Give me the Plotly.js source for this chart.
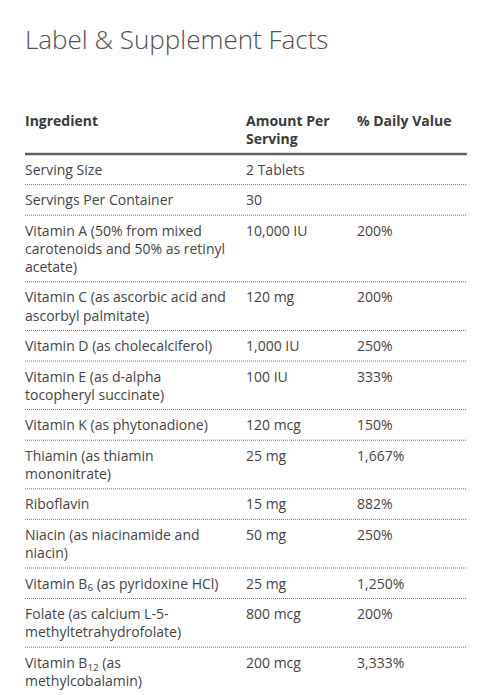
<!DOCTYPE html>
<html>
<head>
<meta charset="utf-8">
<script src="https://cdn.plot.ly/plotly-3.0.1.min.js"></script>
<style>html,body{margin:0;padding:0;background:#fff;}#chart{width:501px;height:695px;}</style>
</head>
<body>
<div id="chart"></div>
<script>
// ---- data ----
var chartTitle = "Label & Supplement Facts";
var headers = ["Ingredient", "Amount Per<br>Serving", "% Daily Value"];
var ingredients = [
  "Serving Size",
  "Servings Per Container",
  "Vitamin A (50% from mixed<br>carotenoids and 50% as retinyl<br>acetate)",
  "Vitamin C (as ascorbic acid and<br>ascorbyl palmitate)",
  "Vitamin D (as cholecalciferol)",
  "Vitamin E (as d-alpha<br>tocopheryl succinate)",
  "Vitamin K (as phytonadione)",
  "Thiamin (as thiamin<br>mononitrate)",
  "Riboflavin",
  "Niacin (as niacinamide and<br>niacin)",
  "Vitamin B<sub>6</sub> (as pyridoxine HCl)",
  "Folate (as calcium L-5-<br>methyltetrahydrofolate)",
  "Vitamin B<sub>12</sub> (as<br>methylcobalamin)"
];
var amounts = ["2 Tablets", "30", "10,000 IU", "120 mg", "1,000 IU", "100 IU", "120 mcg",
  "25 mg", "15 mg", "50 mg", "25 mg", "800 mcg", "200 mcg"];
var dailyValues = ["", "", "200%", "200%", "250%", "333%", "150%", "1,667%", "882%",
  "250%", "1,250%", "200%", "3,333%"];

// ---- layout parameters (pixels) ----
var W = 501, H = 695;
var colX = [25, 246, 357];
var tableRight = 467;
var headerTop = 115;
var headerBottom = 154;
var rowPad = 12.6, lineH = 18;
var textOffset = 10;

function nLines(s) { return s.split("<br>").length; }

// compute row tops from content
var rowTops = [], boundaries = [];
var y = headerBottom;
for (var i = 0; i < ingredients.length; i++) {
  var n = Math.max(nLines(ingredients[i]), nLines(amounts[i]), nLines(dailyValues[i] || ""));
  rowTops.push(y);
  y += rowPad + lineH * n;
  boundaries.push(y);
}

var bodyFont = {family: "Open Sans, sans-serif", size: 14, color: "#444"};
var headFont = {family: "Open Sans, sans-serif", size: 14, color: "#3a3a3a", weight: 700};

var traces = [];
var cols = [ingredients, amounts, dailyValues];
for (var c = 0; c < 3; c++) {
  traces.push({
    type: "scatter", mode: "text",
    x: cols[c].map(function () { return colX[c]; }),
    y: rowTops.map(function (t) { return t + textOffset; }),
    text: cols[c], textposition: "bottom right",
    textfont: bodyFont, hoverinfo: "skip", showlegend: false
  });
}
// header
traces.push({
  type: "scatter", mode: "text",
  x: colX, y: headers.map(function () { return headerTop; }),
  text: headers.map(function (h) { return h; }), textposition: "bottom right",
  textfont: headFont, hoverinfo: "skip", showlegend: false
});
// dotted separators
var sx = [], sy = [];
boundaries.forEach(function (b) { sx.push(colX[0], tableRight, null); sy.push(b, b, null); });
traces.push({
  type: "scatter", mode: "lines", x: sx, y: sy,
  line: {color: "#6a6a6a", width: 1, dash: "1px,1px"},
  hoverinfo: "skip", showlegend: false
});

var layout = {
  width: W, height: H,
  margin: {l: 0, r: 0, t: 0, b: 0},
  paper_bgcolor: "#fff", plot_bgcolor: "#fff",
  title: {
    text: chartTitle, x: colX[0] / W, xanchor: "left", xref: "paper",
    y: 1 - 31 / H, yanchor: "top", yref: "paper",
    font: {family: "Open Sans, sans-serif", size: 26, color: "#505050", weight: 300}
  },
  xaxis: {range: [0, W], visible: false, fixedrange: true},
  yaxis: {range: [H, 0], visible: false, fixedrange: true},
  shapes: [{
    type: "line", xref: "x", yref: "y", x0: colX[0], x1: tableRight,
    y0: headerBottom, y1: headerBottom, line: {color: "#5b6168", width: 2.5}
  }],
  hovermode: false
};

Plotly.newPlot("chart", traces, layout, {staticPlot: true, displayModeBar: false});
</script>
</body>
</html>
